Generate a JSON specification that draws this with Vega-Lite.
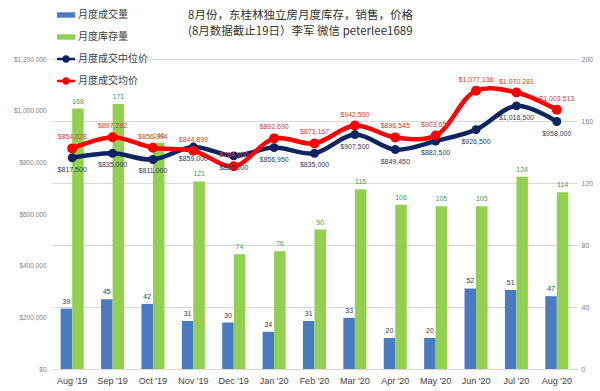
{
  "$schema": "https://vega.github.io/schema/vega-lite/v6.json",
  "width": 525,
  "height": 310,
  "autosize": {"type": "none"},
  "padding": {"left": 52, "top": 59, "right": 23, "bottom": 22},
  "background": "white",
  "config": {"view": {"stroke": null}, "font": "Liberation Sans"},
  "title": {
    "text": ["8月份，东桂林独立房月度库存，销售，价格", "(8月数据截止19日）李军 微信 peterlee1689"],
    "anchor": "start",
    "frame": "group",
    "dx": 136,
    "offset": -31,
    "font": "Noto Sans CJK SC",
    "fontSize": 11.5,
    "fontWeight": "normal",
    "color": "#333333",
    "lineHeight": 16
  },
  "data": {
    "values": [
      {"month": "Aug '19", "sales": 39, "inventory": 168, "median": 817500, "mean": 854028},
      {"month": "Sep '19", "sales": 45, "inventory": 171, "median": 835000, "mean": 897282},
      {"month": "Oct '19", "sales": 42, "inventory": 146, "median": 811000, "mean": 856394},
      {"month": "Nov '19", "sales": 31, "inventory": 121, "median": 859000, "mean": 844899},
      {"month": "Dec '19", "sales": 30, "inventory": 74, "median": 825000, "mean": 784700},
      {"month": "Jan '20", "sales": 24, "inventory": 76, "median": 856950, "mean": 892690},
      {"month": "Feb '20", "sales": 31, "inventory": 90, "median": 835000, "mean": 873167},
      {"month": "Mar '20", "sales": 33, "inventory": 116, "median": 907500, "mean": 942500},
      {"month": "Apr '20", "sales": 20, "inventory": 106, "median": 849450, "mean": 896545},
      {"month": "May '20", "sales": 20, "inventory": 105, "median": 882500, "mean": 903650},
      {"month": "Jun '20", "sales": 52, "inventory": 105, "median": 926500, "mean": 1077136},
      {"month": "Jul '20", "sales": 51, "inventory": 124, "median": 1018500, "mean": 1070281},
      {"month": "Aug '20", "sales": 47, "inventory": 114, "median": 958000, "mean": 1003513}
    ]
  },
  "layer": [
    {
      "transform": [{"fold": ["sales", "inventory"], "as": ["key", "v"]}],
      "layer": [
        {
          "mark": {"type": "bar"},
          "encoding": {
            "x": {
              "field": "month", "type": "nominal", "sort": null,
              "scale": {"paddingInner": 0.43, "paddingOuter": 0.215},
              "axis": {"title": null, "labelAngle": 0, "labelFontSize": 9, "labelColor": "#404040", "ticks": false, "domainColor": "#d9d9d9", "labelPadding": 7}
            },
            "xOffset": {"field": "key", "type": "nominal", "scale": {"domain": ["sales", "inventory"], "paddingInner": 0}},
            "y": {
              "field": "v", "type": "quantitative",
              "scale": {"domain": [0, 200], "nice": false},
              "axis": {"orient": "right", "title": null, "values": [0, 20, 40, 60, 80, 100, 120, 140, 160, 180, 200], "grid": true, "gridColor": "#d9d9d9", "domain": false, "ticks": false, "labelFontSize": 7, "labelColor": "#7f7f7f", "labelPadding": 4}
            },
            "color": {
              "field": "key", "type": "nominal",
              "scale": {"domain": ["sales", "inventory", "median", "mean"], "range": ["#4a7ac0", "#92d050", "#0c2461", "#ff0000"]},
              "legend": {
                "orient": "none", "legendX": 5, "legendY": -53, "direction": "vertical", "title": null,
                "labelFontSize": 10, "labelFont": "Noto Sans CJK SC", "labelColor": "#404040",
                "symbolSize": 324, "rowPadding": 8, "labelOffset": 3, "padding": 0, "symbolStrokeWidth": 0,
                "labelExpr": "datum.label==='sales'?'月度成交量':datum.label==='inventory'?'月度库存量':datum.label==='median'?'月度成交中位价':'月度成交均价'",
                "encode": {
                  "symbols": {
                    "update": {
                      "shape": [
                        {"test": "datum.value==='sales'||datum.value==='inventory'", "value": "M-1,-0.3L1,-0.3L1,0.3L-1,0.3Z"},
                        {"value": "M-1,-0.14L1,-0.14L1,0.14L-1,0.14Z M-0.42,0 A0.42,0.42 0 1,1 0.42,0 A0.42,0.42 0 1,1 -0.42,0 Z"}
                      ],
                      "fill": {"scale": "color", "field": "value"}
                    }
                  }
                }
              }
            }
          }
        },
        {
          "mark": {"type": "text", "dy": -7, "fontSize": 7},
          "encoding": {
            "x": {"field": "month", "type": "nominal", "sort": null},
            "xOffset": {"field": "key", "type": "nominal", "scale": {"domain": ["sales", "inventory"]}},
            "y": {"field": "v", "type": "quantitative"},
            "text": {"field": "v", "type": "quantitative"},
            "fill": {"condition": {"test": "datum.key==='inventory'", "value": "#3f9d5a"}, "value": "#404040"}
          }
        }
      ]
    },
    {
      "layer": [
        {
          "mark": {"type": "line", "interpolate": "catmull-rom", "strokeWidth": 4.5},
          "encoding": {
            "x": {"field": "month", "type": "nominal", "sort": null},
            "y": {
              "field": "median", "type": "quantitative",
              "scale": {"domain": [0, 1200000], "nice": false},
              "axis": {"orient": "left", "title": null, "values": [0, 200000, 400000, 600000, 800000, 1000000, 1200000], "format": "$,.0f", "grid": false, "domain": false, "ticks": false, "labelFontSize": 6.5, "labelColor": "#7f7f7f", "labelPadding": 6}
            },
            "color": {"datum": "median"}
          }
        },
        {
          "mark": {"type": "circle", "size": 80, "opacity": 1},
          "encoding": {
            "x": {"field": "month", "type": "nominal", "sort": null},
            "y": {"field": "median", "type": "quantitative"},
            "color": {"datum": "median"}
          }
        },
        {
          "mark": {"type": "line", "interpolate": "catmull-rom", "strokeWidth": 4.5},
          "encoding": {
            "x": {"field": "month", "type": "nominal", "sort": null},
            "y": {"field": "mean", "type": "quantitative"},
            "color": {"datum": "mean"}
          }
        },
        {
          "mark": {"type": "circle", "size": 100, "opacity": 1},
          "encoding": {
            "x": {"field": "month", "type": "nominal", "sort": null},
            "y": {"field": "mean", "type": "quantitative"},
            "color": {"datum": "mean"}
          }
        },
        {
          "mark": {"type": "text", "fontSize": 7, "fill": "#2f3e5c"},
          "encoding": {
            "x": {"field": "month", "type": "nominal", "sort": null},
            "y": {"field": "median", "type": "quantitative"},
            "yOffset": {"condition": {"test": "indexof([\"Dec '19\",\"Jan '20\",\"Jul '20\"], datum.month) >= 0", "value": -11}, "value": 12},
            "text": {"field": "median", "type": "quantitative", "format": "$,.0f"}
          }
        },
        {
          "mark": {"type": "text", "fontSize": 7, "fill": "#d9403a"},
          "encoding": {
            "x": {"field": "month", "type": "nominal", "sort": null},
            "y": {"field": "mean", "type": "quantitative"},
            "yOffset": {"condition": {"test": "datum.month === \"Dec '19\"", "value": 12}, "value": -11},
            "text": {"field": "mean", "type": "quantitative", "format": "$,.0f"}
          }
        }
      ]
    }
  ],
  "resolve": {"scale": {"y": "independent"}}
}
